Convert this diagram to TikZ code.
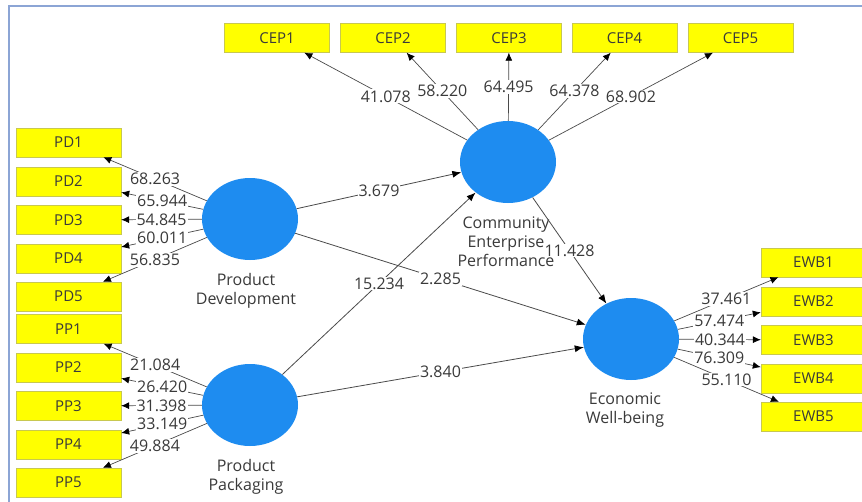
\documentclass[tikz,border=0pt]{standalone}
\usepackage{fontspec}
\setmainfont{Open Sans}
\usetikzlibrary{shapes.geometric, arrows.meta}
\definecolor{lvblue}{HTML}{1E8CF0}
\definecolor{mvyellow}{HTML}{FFFF00}
\definecolor{mvedge}{HTML}{C8C850}
\definecolor{linegrey}{HTML}{4A4A4A}
\definecolor{textgrey}{HTML}{3A3A3A}
\definecolor{frameblue}{HTML}{8CA5D5}
\tikzset{
  mvbox/.style={rectangle, draw=mvedge, fill=mvyellow, thin,
                minimum width=105pt, minimum height=29pt, inner sep=0,
                font=\fontsize{15}{15}\selectfont, text=textgrey},
  lvcirc/.style={ellipse, fill=lvblue, minimum width=96pt, minimum height=82pt,
                 inner sep=0},
  lvname/.style={align=center, font=\fontsize{16}{19}\selectfont, text=textgrey},
  loadlink/.style={->, line width=0.7pt, >={Latex[length=8pt,width=7pt,black]}, draw=linegrey},
  pathlink/.style={->, line width=0.8pt, >={Latex[length=9pt,width=7pt,black]}, draw=linegrey},
  coef/.style={midway, font=\fontsize{16}{16}\selectfont, fill=white, inner sep=1pt,
               text=textgrey},
}

\begin{document}
\begin{tikzpicture}[x=1pt, y=-1pt]
  % --- canvas and frame ---
  \clip (0,0) rectangle (862,501);
  \fill[white] (0,0) rectangle (862,501);
  \draw[frameblue, line width=1.5pt] (9,6) rectangle (880,520);

  % --- Latent variables ---
  \node[lvcirc] (pd)  at (250, 219) {};
  \node[lvcirc] (pp)  at (250, 405) {};
  \node[lvcirc] (cep) at (508, 162) {};
  \node[lvcirc] (ewb) at (631, 339) {};
  \node[lvname] (pdname)  at (246, 290.5) {Product\\Development};
  \node[lvname] (ppname)  at (246, 476.5) {Product\\Packaging};
  \node[lvname] (cepname) at (506, 241.5) {Community\\Enterprise\\Performance};
  \node[lvname] (ewbname) at (625, 410.5) {Economic\\Well-being};

  % --- Indicators ---
  \node[mvbox] (pd1) at (68.5, 142.5) {PD1};
  \node[mvbox] (pd2) at (68.5, 181.5) {PD2};
  \node[mvbox] (pd3) at (68.5, 220)   {PD3};
  \node[mvbox] (pd4) at (68.5, 258.5) {PD4};
  \node[mvbox] (pd5) at (68.5, 296.5) {PD5};

  \node[mvbox] (pp1) at (68.5, 329)   {PP1};
  \node[mvbox] (pp2) at (68.5, 367.5) {PP2};
  \node[mvbox] (pp3) at (68.5, 406)   {PP3};
  \node[mvbox] (pp4) at (68.5, 444.5) {PP4};
  \node[mvbox] (pp5) at (68.5, 482.5) {PP5};

  \node[mvbox] (cep1) at (277, 38)   {CEP1};
  \node[mvbox] (cep2) at (393, 38)   {CEP2};
  \node[mvbox] (cep3) at (509, 38)   {CEP3};
  \node[mvbox] (cep4) at (624.5, 38) {CEP4};
  \node[mvbox] (cep5) at (740.5, 38) {CEP5};

  \node[mvbox] (ewb1) at (813.5, 262.5) {EWB1};
  \node[mvbox] (ewb2) at (813.5, 301.5) {EWB2};
  \node[mvbox] (ewb3) at (813.5, 340)   {EWB3};
  \node[mvbox] (ewb4) at (813.5, 378.5) {EWB4};
  \node[mvbox] (ewb5) at (813.5, 416.5) {EWB5};

  % --- Outer loadings ---
  \draw[loadlink] (pd) -- (pd1) node[coef]{68.263};
  \draw[loadlink] (pd) -- (pd2) node[coef]{65.944};
  \draw[loadlink] (pd) -- (pd3) node[coef]{54.845};
  \draw[loadlink] (pd) -- (pd4) node[coef]{60.011};
  \draw[loadlink] (pd) -- (pd5) node[coef]{56.835};

  \draw[loadlink] (pp) -- (pp1) node[coef]{21.084};
  \draw[loadlink] (pp) -- (pp2) node[coef]{26.420};
  \draw[loadlink] (pp) -- (pp3) node[coef]{31.398};
  \draw[loadlink] (pp) -- (pp4) node[coef]{33.149};
  \draw[loadlink] (pp) -- (pp5) node[coef]{49.884};

  \draw[loadlink] (cep) -- (cep1) node[coef]{41.078};
  \draw[loadlink] (cep) -- (cep2) node[coef]{58.220};
  \draw[loadlink] (cep) -- (cep3) node[coef]{64.495};
  \draw[loadlink] (cep) -- (cep4) node[coef]{64.378};
  \draw[loadlink] (cep) -- (cep5) node[coef]{68.902};

  \draw[loadlink] (ewb) -- (ewb1) node[coef]{37.461};
  \draw[loadlink] (ewb) -- (ewb2) node[coef]{57.474};
  \draw[loadlink] (ewb) -- (ewb3) node[coef]{40.344};
  \draw[loadlink] (ewb) -- (ewb4) node[coef]{76.309};
  \draw[loadlink] (ewb) -- (ewb5) node[coef]{55.110};

  % --- Inner model ---
  \draw[pathlink] (pd)  -- (cep) node[coef]{3.679};
  \draw[pathlink] (pd)  -- (ewb) node[coef]{2.285};
  \draw[pathlink] (pp)  -- (cep) node[coef]{15.234};
  \draw[pathlink] (pp)  -- (ewb) node[coef]{3.840};
  \draw[pathlink] (cep) -- (ewb) node[coef]{11.428};

\end{tikzpicture}
\end{document}
